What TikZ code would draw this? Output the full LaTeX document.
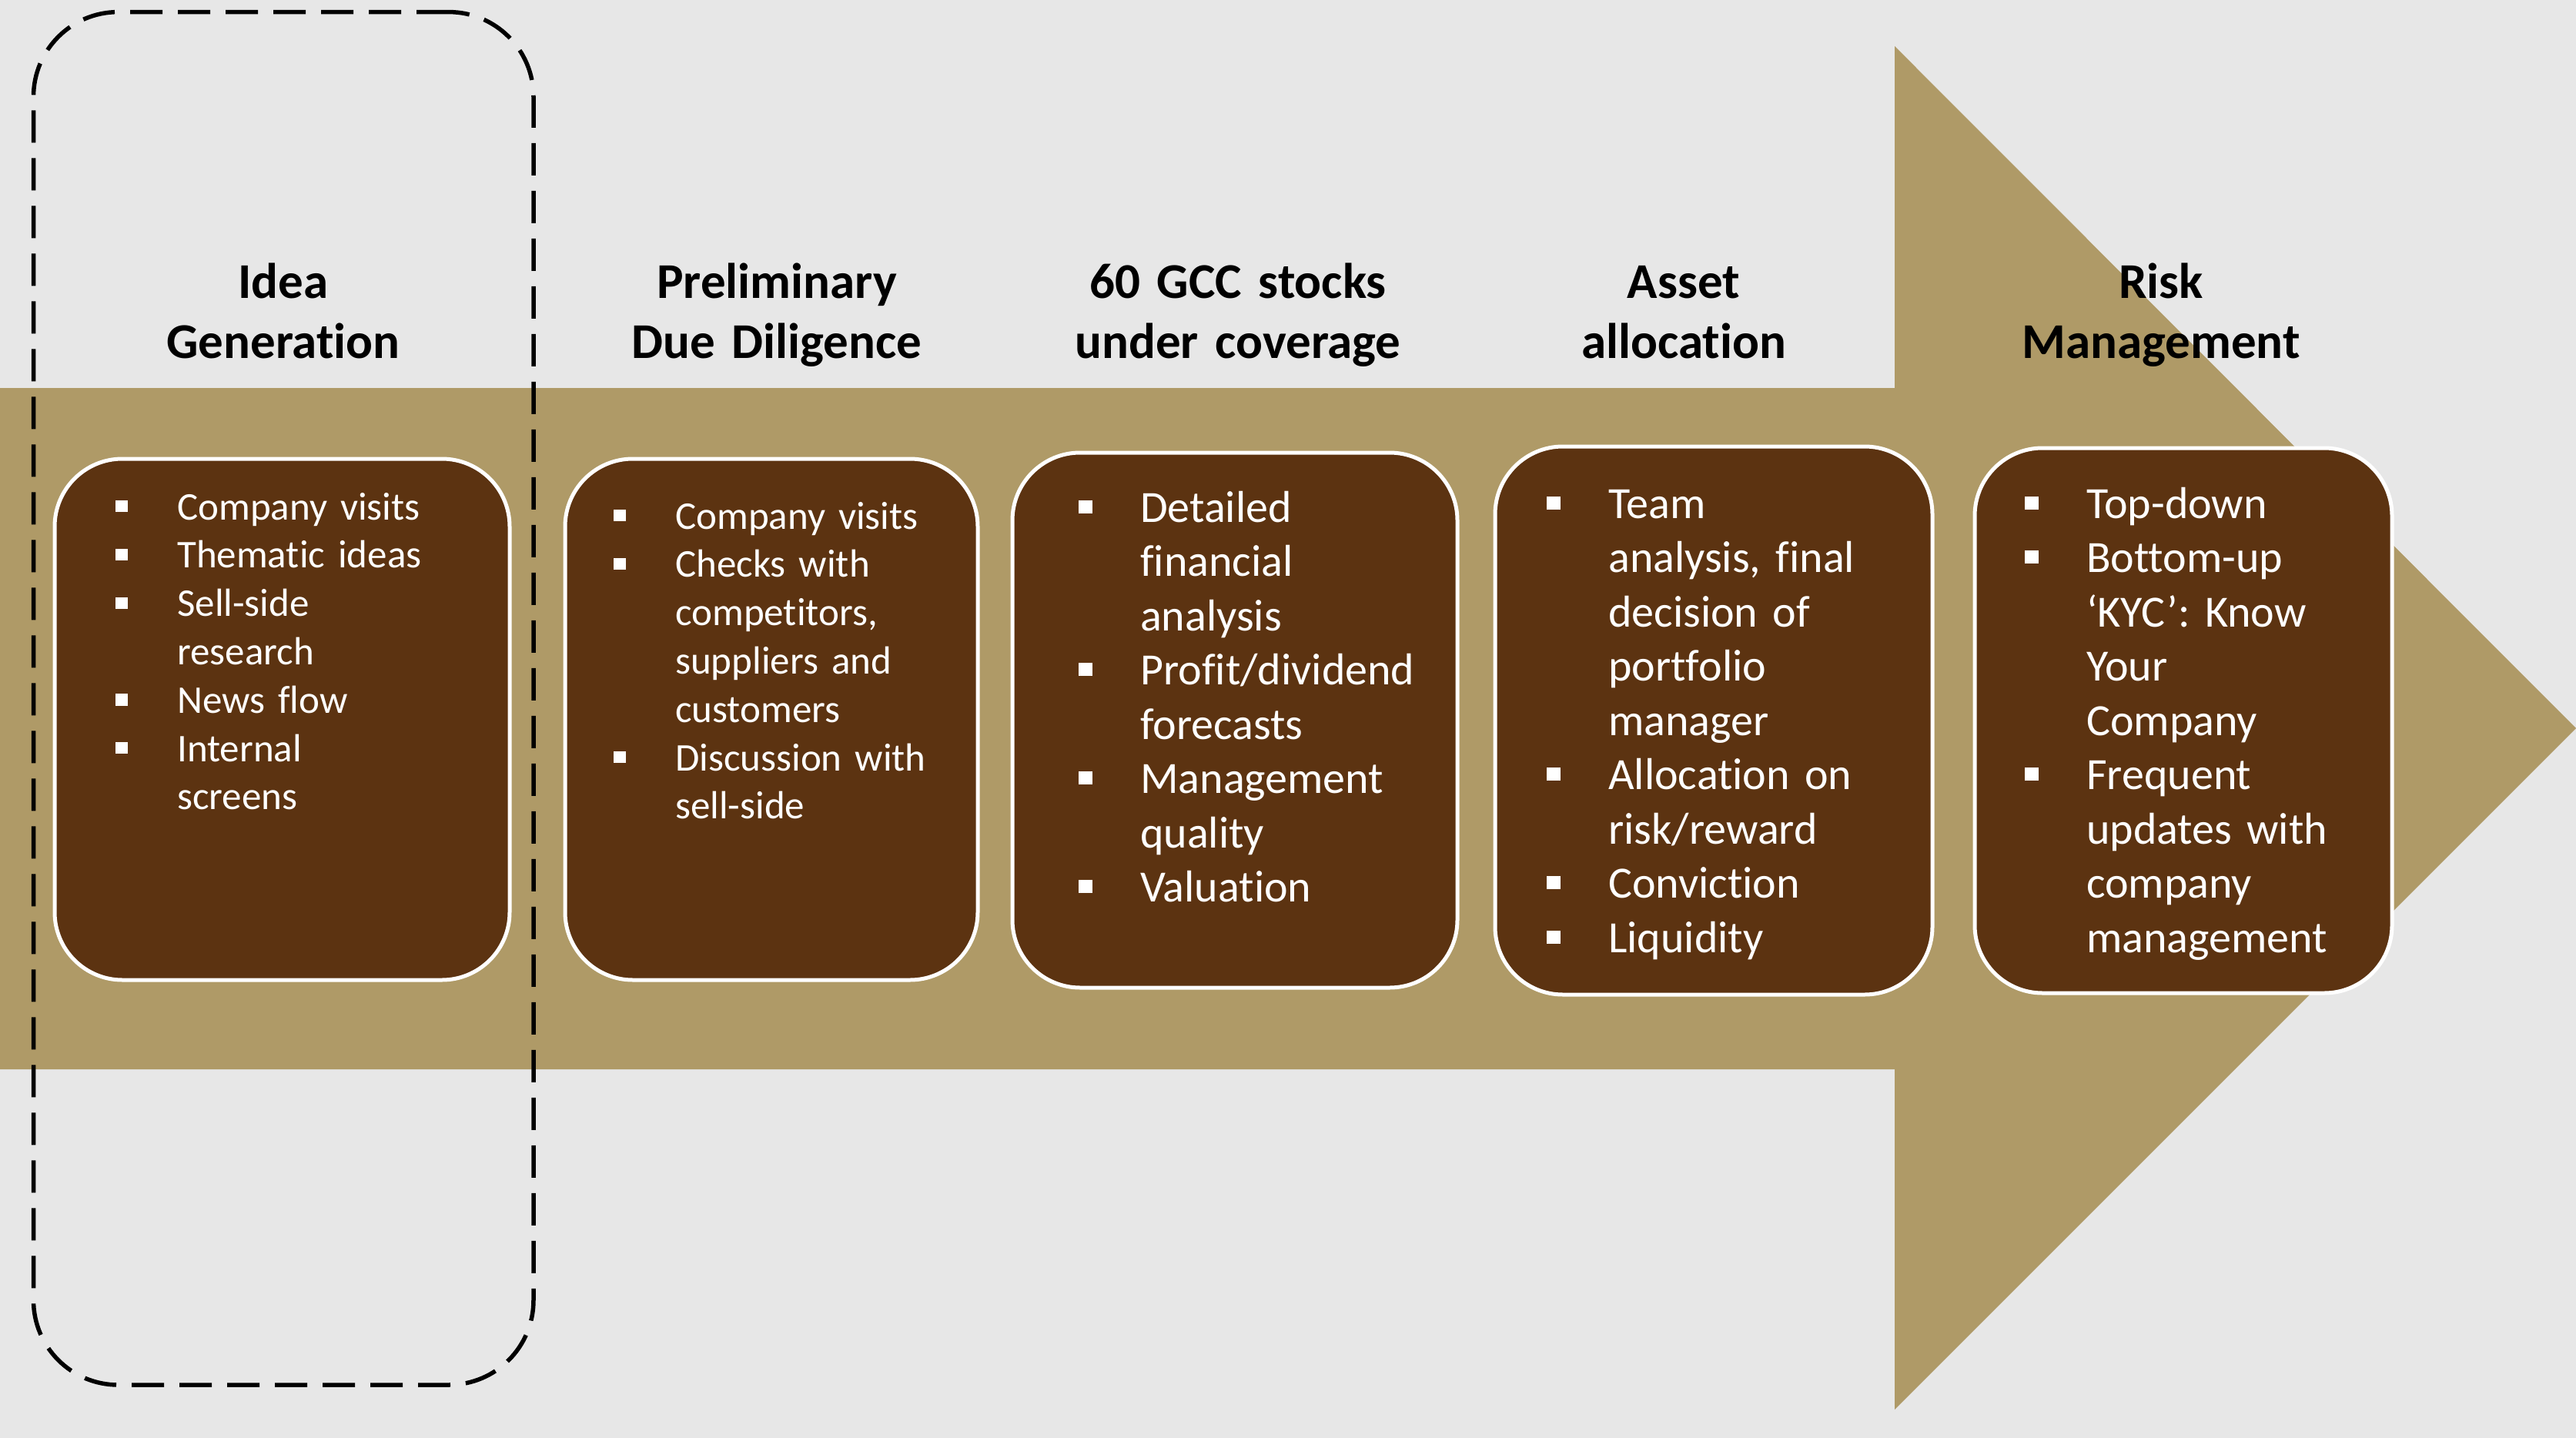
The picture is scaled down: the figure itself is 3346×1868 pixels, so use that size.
\documentclass[tikz,border=0pt]{standalone}
\usepackage{fontspec}
\setmainfont{Carlito}[Ligatures=NoCommon]
\definecolor{bgc}{HTML}{E7E7E7}
\definecolor{tanc}{HTML}{AF9A67}
\definecolor{brownc}{HTML}{5C3311}
\newcommand{\bl}{\makebox[80pt][l]{\rule[0.19em]{0.3em}{0.3em}}}
\newcommand{\ind}{\hspace*{80pt}}
\begin{document}
\begin{tikzpicture}[x=1pt,y=-1pt,
  box/.style={draw=white, line width=5pt, fill=brownc, rounded corners=88pt, inner sep=0pt},
  ttl/.style={font=\bfseries\fontsize{65}{78}\selectfont, text width=800pt, align=center, anchor=base, inner sep=0pt},
  lsts/.style={text=white, text width=600pt, align=left, anchor=base west, inner sep=0pt, font=\fontsize{51}{62.8}\selectfont},
  lstl/.style={text=white, text width=600pt, align=left, anchor=base west, inner sep=0pt, font=\fontsize{58}{70.5}\selectfont},
  grpbox/.style={draw=black, dash pattern=on 42pt off 20pt, line width=5.5pt, rounded corners=110pt, inner sep=0pt}]
\fill[bgc] (0,0) rectangle (3346,1868);
\useasboundingbox (0,0) rectangle (3346,1868);
% big arrow
\fill[tanc] (0,504) -- (2461,504) -- (2461,60) -- (3346,946) -- (2461,1831) -- (2461,1389) -- (0,1389) -- cycle;
% dashed group
\node[grpbox, minimum width=649.5pt, minimum height=1783.4pt] (grp) at (368.25,907.3) {};
% titles
\node[ttl] (t1) at (368,387) {Idea\\Generation};
\node[ttl] (t2) at (1009,387) {Preliminary\\Due Diligence};
\node[ttl] (t3) at (1608,387) {60 GCC stocks\\under coverage};
\node[ttl] (t4) at (2187,387) {Asset\\allocation};
\node[ttl] (t5) at (2807,387) {Risk\\Management};
% boxes
\node[box, minimum width=591pt, minimum height=677pt] (b1) at (366.5,934.5) {};
\node[box, minimum width=536pt, minimum height=677pt] (b2) at (1002,934.5) {};
\node[box, minimum width=578pt, minimum height=695pt] (b3) at (1604,935.5) {};
\node[box, minimum width=568pt, minimum height=712pt] (b4) at (2226,936) {};
\node[box, minimum width=542pt, minimum height=708pt] (b5) at (2836,936) {};
% lists
\node[lsts] (l1) at (150,675) {\bl Company visits\\ \bl Thematic ideas\\ \bl Sell-side\\ \ind research\\ \bl News flow\\ \bl Internal\\ \ind screens};
\node[lsts] (l2) at (797,687) {\bl Company visits\\ \bl Checks with\\ \ind competitors,\\ \ind suppliers and\\ \ind customers\\ \bl Discussion with\\ \ind sell-side};
\node[lstl] (l3) at (1401,678) {\bl Detailed\\ \ind financial\\ \ind analysis\\ \bl Profit/dividend\\ \ind forecasts\\ \bl Management\\ \ind quality\\ \bl Valuation};
\node[lstl] (l4) at (2009,673) {\bl Team\\ \ind analysis, final\\ \ind decision of\\ \ind portfolio\\ \ind manager\\ \bl Allocation on\\ \ind risk/reward\\ \bl Conviction\\ \bl Liquidity};
\node[lstl] (l5) at (2630,673) {\bl Top-down\\ \bl Bottom-up\\ \ind ‘KYC’: Know\\ \ind Your\\ \ind Company\\ \bl Frequent\\ \ind updates with\\ \ind company\\ \ind management};
\end{tikzpicture}
\end{document}
